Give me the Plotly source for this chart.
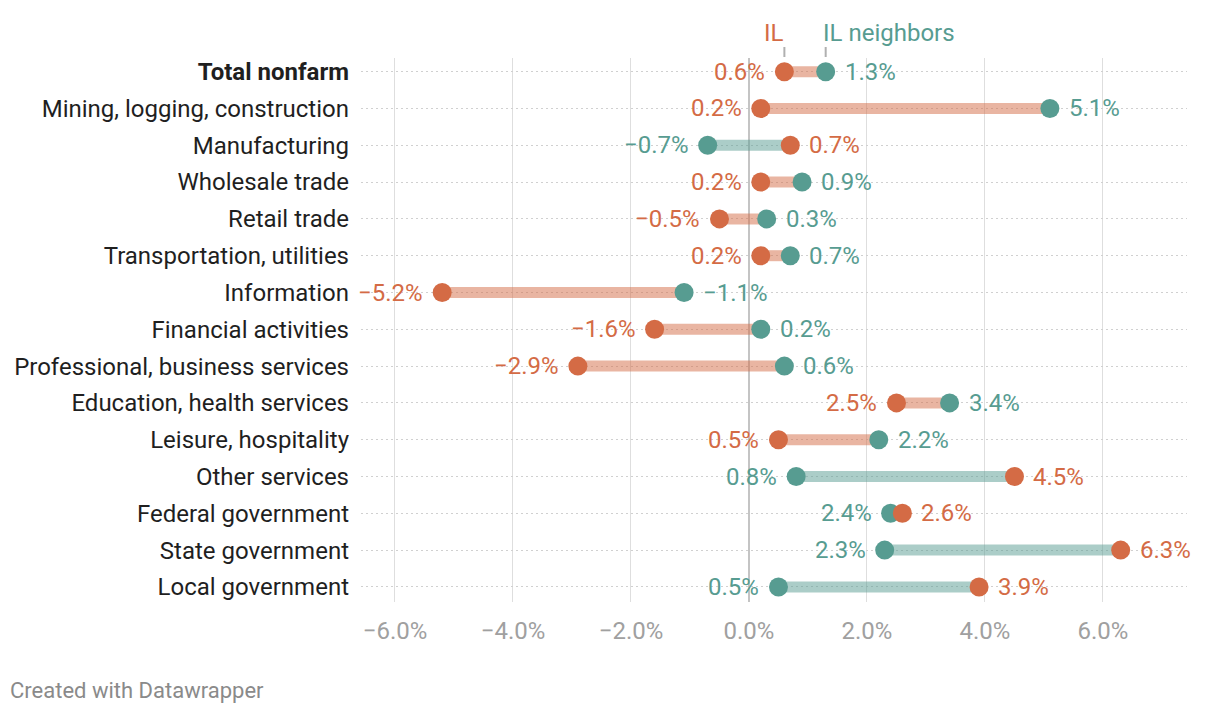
import plotly.graph_objects as go

categories = [
    "Total nonfarm", "Mining, logging, construction", "Manufacturing",
    "Wholesale trade", "Retail trade", "Transportation, utilities",
    "Information", "Financial activities", "Professional, business services",
    "Education, health services", "Leisure, hospitality", "Other services",
    "Federal government", "State government", "Local government",
]
il_values = [0.6, 0.2, 0.7, 0.2, -0.5, 0.2, -5.2, -1.6, -2.9, 2.5, 0.5, 4.5, 2.6, 6.3, 3.9]
neighbor_values = [1.3, 5.1, -0.7, 0.9, 0.3, 0.7, -1.1, 0.2, 0.6, 3.4, 2.2, 0.8, 2.4, 2.3, 0.5]
x_ticks = [-6, -4, -2, 0, 2, 4, 6]
x_tick_labels = ["−6.0%", "−4.0%", "−2.0%", "0.0%", "2.0%", "4.0%", "6.0%"]

IL_COLOR = "#D46B45"
NB_COLOR = "#579C91"
IL_BAR = "rgba(212,107,69,0.5)"
NB_BAR = "rgba(87,156,145,0.5)"
FONT = "Roboto"

PLOT_TOP = 58
PLOT_H = 714 - 58 - 112

def fmt(v):
    s = f"{abs(v):.1f}%"
    return ("−" + s) if v < 0 else s

ys = list(range(len(categories)))

fig = go.Figure()

# range bars, coloured by the left-hand dot
il_bx, il_by, nb_bx, nb_by = [], [], [], []
for y, a, b in zip(ys, il_values, neighbor_values):
    if a <= b:
        il_bx += [a, b, None]; il_by += [y, y, None]
    else:
        nb_bx += [a, b, None]; nb_by += [y, y, None]
fig.add_trace(go.Scatter(x=il_bx, y=il_by, mode="lines",
                         line=dict(color=IL_BAR, width=11), hoverinfo="skip", showlegend=False))
fig.add_trace(go.Scatter(x=nb_bx, y=nb_by, mode="lines",
                         line=dict(color=NB_BAR, width=11), hoverinfo="skip", showlegend=False))

fig.add_trace(go.Scatter(x=neighbor_values, y=ys, mode="markers", name="IL neighbors",
                         marker=dict(color=NB_COLOR, size=19, line=dict(width=0)), showlegend=False))
fig.add_trace(go.Scatter(x=il_values, y=ys, mode="markers", name="IL",
                         marker=dict(color=IL_COLOR, size=19, line=dict(width=0)), showlegend=False))

annotations = []
for y, a, b in zip(ys, il_values, neighbor_values):
    for v, col, other in ((a, IL_COLOR, b), (b, NB_COLOR, a)):
        left = v < other or (v == other and col == IL_COLOR)
        annotations.append(dict(
            x=v, y=y, xref="x", yref="y", text=fmt(v), showarrow=False,
            xanchor="right" if left else "left", yanchor="middle",
            xshift=-17 if left else 17,
            font=dict(family=FONT, size=24, color=col),
        ))

# legend labels above first row
annotations.append(dict(x=il_values[0], y=1, xref="x", yref="paper", text="IL",
                        showarrow=False, xanchor="right", yanchor="middle", xshift=2, yshift=25,
                        font=dict(family=FONT, size=24, color=IL_COLOR)))
annotations.append(dict(x=neighbor_values[0], y=1, xref="x", yref="paper", text="IL neighbors",
                        showarrow=False, xanchor="left", yanchor="middle", xshift=-5, yshift=25,
                        font=dict(family=FONT, size=24, color=NB_COLOR)))
annotations.append(dict(x=0, y=0, xref="paper", yref="paper", text="Created with Datawrapper",
                        showarrow=False, xanchor="left", yanchor="middle",
                        xshift=-353, yshift=-88,
                        font=dict(family=FONT, size=22, color="#8a8a8a")))

shapes = []
for v in (il_values[0], neighbor_values[0]):
    shapes.append(dict(type="line", xref="x", yref="paper", x0=v, x1=v,
                       y0=1 + 1 / PLOT_H, y1=1 + 11 / PLOT_H,
                       line=dict(color="#b0b0b0", width=2)))

tick_text = [("<b>" + c + "</b>") if i == 0 else c for i, c in enumerate(categories)]

fig.update_layout(
    width=1220, height=714,
    margin=dict(l=361, r=33, t=58, b=112),
    paper_bgcolor="white", plot_bgcolor="white",
    font=dict(family=FONT),
    annotations=annotations, shapes=shapes,
    xaxis=dict(range=[-6.576, 7.424], tickvals=x_ticks, ticktext=x_tick_labels,
               showgrid=True, gridcolor="#dedede", gridwidth=1,
               zeroline=True, zerolinecolor="#c4c4c4", zerolinewidth=1.5,
               showline=False, ticks="", ticklabelstandoff=12,
               tickfont=dict(family=FONT, size=24, color="#a0a0a0"), fixedrange=True),
    yaxis=dict(range=[14.41, -0.372], tickvals=ys, ticktext=tick_text,
               showgrid=True, gridcolor="#d0d0d0", griddash="2px,3px", gridwidth=1,
               zeroline=False, showline=False, ticks="", ticklabelstandoff=11,
               tickfont=dict(family=FONT, size=24, color="#1f1f1f"), fixedrange=True),
)

fig.write_html("out.html")
